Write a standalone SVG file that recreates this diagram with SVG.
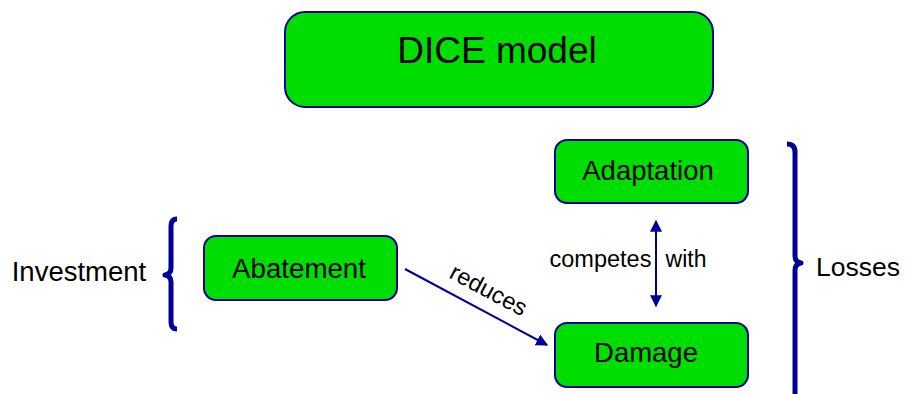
<svg xmlns="http://www.w3.org/2000/svg" width="908" height="394" viewBox="0 0 908 394">
<defs>
<style>
.box{fill:#00dd00;stroke:#000099;stroke-width:2}
.t{font-family:"Liberation Sans",Arial,sans-serif;fill:#000;text-anchor:middle}
.line{stroke:#000099;stroke-width:2;fill:none}
.brace{stroke:#000099;stroke-width:5;fill:none;stroke-linejoin:round}
</style>
<marker id="ah" viewBox="0 0 10 10" refX="9" refY="5" markerWidth="6" markerHeight="6" orient="auto-start-reverse" markerUnits="strokeWidth">
<path d="M0,0 L10,5 L0,10 z" fill="#000099"/>
</marker>
</defs>
<rect width="908" height="394" fill="#fff"/>
<g id="dice">
<rect class="box" x="285" y="12" width="428" height="95" rx="20"/>
<text class="t" x="497" y="63" font-size="37">DICE model</text>
</g>
<g id="abatement">
<rect class="box" x="204" y="236" width="193" height="64" rx="12"/>
<text class="t" x="299" y="278" font-size="27.7">Abatement</text>
</g>
<g id="adaptation">
<rect class="box" x="555" y="140" width="193" height="63" rx="12"/>
<text class="t" x="648" y="180" font-size="27.5">Adaptation</text>
</g>
<g id="damage">
<rect class="box" x="555" y="323" width="193" height="64" rx="12"/>
<text class="t" x="646" y="362" font-size="27.5">Damage</text>
</g>
<g id="investment">
<text class="t" x="79" y="281" font-size="27.5">Investment</text>
<path class="brace" d="M177,219 Q171,219 171,226 L171,268 Q171,274 165,275 Q171,276 171,282 L171,322 Q171,329 177,329"/>
</g>
<g id="losses">
<text class="t" x="858" y="276" font-size="26.5">Losses</text>
<path class="brace" d="M787,144 Q795,144 795,152 L795,256 Q795,262 801,263 Q795,264 795,270 L795,394"/>
</g>
<g id="connectors">
<line class="line" x1="405" y1="269" x2="547" y2="345" marker-end="url(#ah)"/>
<text class="t" x="485" y="297" font-size="23.5" transform="rotate(28 485 297)">reduces</text>
<line class="line" x1="656" y1="221" x2="656" y2="306" marker-start="url(#ah)" marker-end="url(#ah)"/>
<text class="t" x="600.5" y="267" font-size="23.5">competes</text>
<text class="t" x="686" y="267" font-size="23">with</text>
</g>
</svg>
